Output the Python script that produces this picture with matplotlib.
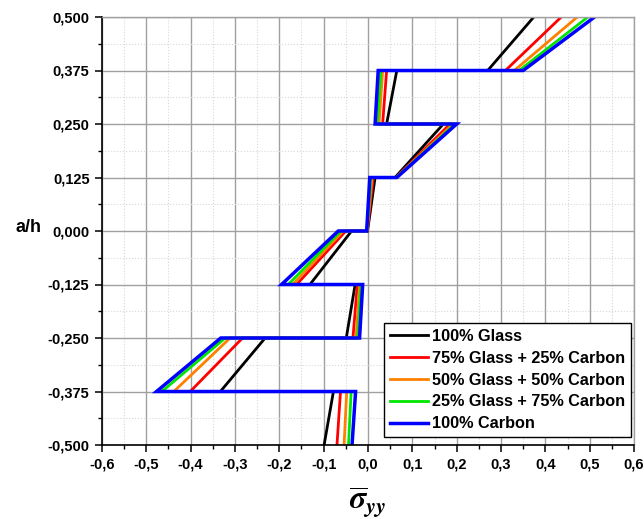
import matplotlib
matplotlib.use("Agg")
import matplotlib.pyplot as plt
import numpy as np
from matplotlib.ticker import FuncFormatter, MultipleLocator

plt.rcParams["font.family"] = ["Liberation Sans", "DejaVu Sans"]
plt.rcParams["font.weight"] = "bold"
plt.rcParams["mathtext.fontset"] = "stix"

# layer boundaries (a/h), bottom to top
z_bottom = [-0.500, -0.375, -0.250, -0.125, 0.000, 0.125, 0.250, 0.375]
z_top = [-0.375, -0.250, -0.125, 0.000, 0.125, 0.250, 0.375, 0.500]

labels = [
    "100% Glass",
    "75% Glass + 25% Carbon",
    "50% Glass + 50% Carbon",
    "25% Glass + 75% Carbon",
    "100% Carbon",
]
colors = ["#000000", "#ff0000", "#ff8000", "#00e600", "#0000ff"]

# stress at bottom / top of each layer, per series
s_bottom = [
    [-0.099, -0.333, -0.049, -0.131, -0.001, 0.061, 0.042, 0.270],
    [-0.070, -0.401, -0.034, -0.161, -0.002, 0.063, 0.033, 0.310],
    [-0.054, -0.438, -0.027, -0.170, -0.002, 0.064, 0.025, 0.330],
    [-0.044, -0.465, -0.023, -0.180, -0.003, 0.064, 0.021, 0.341],
    [-0.036, -0.477, -0.019, -0.195, -0.003, 0.065, 0.016, 0.350],
]
s_top = [
    [-0.078, -0.232, -0.029, -0.037, 0.016, 0.170, 0.065, 0.374],
    [-0.062, -0.283, -0.024, -0.050, 0.012, 0.185, 0.042, 0.436],
    [-0.048, -0.311, -0.019, -0.056, 0.009, 0.192, 0.033, 0.472],
    [-0.038, -0.322, -0.016, -0.061, 0.007, 0.196, 0.029, 0.496],
    [-0.028, -0.332, -0.012, -0.067, 0.004, 0.200, 0.023, 0.511],
]

fig = plt.figure(figsize=(6.44, 5.19), dpi=100)
ax = fig.add_axes([102 / 644, 74 / 519, 532 / 644, 428 / 519])

for lab, col, sb, st in zip(labels, colors, s_bottom, s_top):
    xs = np.column_stack([sb, st]).ravel()
    ys = np.column_stack([z_bottom, z_top]).ravel()
    lw = 2.5 if col == "#0000ff" else 2.0
    ax.plot(xs, ys, color=col, lw=lw, label=lab, solid_joinstyle="miter")

ax.set_xlim(-0.6, 0.6)
ax.set_ylim(-0.5, 0.5)
ax.xaxis.set_major_locator(MultipleLocator(0.1))
ax.xaxis.set_minor_locator(MultipleLocator(0.05))
ax.yaxis.set_major_locator(MultipleLocator(0.125))
ax.yaxis.set_minor_locator(MultipleLocator(0.0625))


def comma(fmt):
    def f(v, pos):
        s = format(v + 0.0, fmt)
        if s.startswith("-") and float(s) == 0:
            s = s[1:]
        return s.replace(".", ",")
    return FuncFormatter(f)


ax.xaxis.set_major_formatter(comma(".1f"))
ax.yaxis.set_major_formatter(comma(".3f"))

ax.grid(which="major", color="#a0a0a0", lw=1.0)
ax.grid(which="minor", color="#d8d8d8", lw=0.8, ls=":")
ax.set_axisbelow(True)

for side in ["top", "right"]:
    ax.spines[side].set_color("#a0a0a0")
    ax.spines[side].set_linewidth(1.0)
for side in ["left", "bottom"]:
    ax.spines[side].set_linewidth(1.2)

ax.tick_params(which="major", direction="out", length=5, width=1.1,
               labelsize=10.5, pad=4)
ax.tick_params(which="minor", direction="out", length=3, width=1.0)

ax.set_xlabel(r"$\overline{\sigma}_{yy}$", fontsize=23, fontweight="normal",
              labelpad=9)
ax.set_ylabel("a/h", fontsize=13, fontweight="bold", rotation=0,
              ha="center", va="center")
ax.yaxis.set_label_coords(-0.139, 0.509)

leg = ax.legend(loc="lower right", bbox_to_anchor=(0.9944, 0.0187),
                borderaxespad=0, fancybox=False, framealpha=1,
                edgecolor="black", handlelength=2.35,
                handletextpad=0.27, borderpad=0.35, labelspacing=0.42,
                prop={"weight": "bold", "size": 11.7})
leg.get_frame().set_linewidth(1.0)

fig.savefig("out.png", dpi=100)
